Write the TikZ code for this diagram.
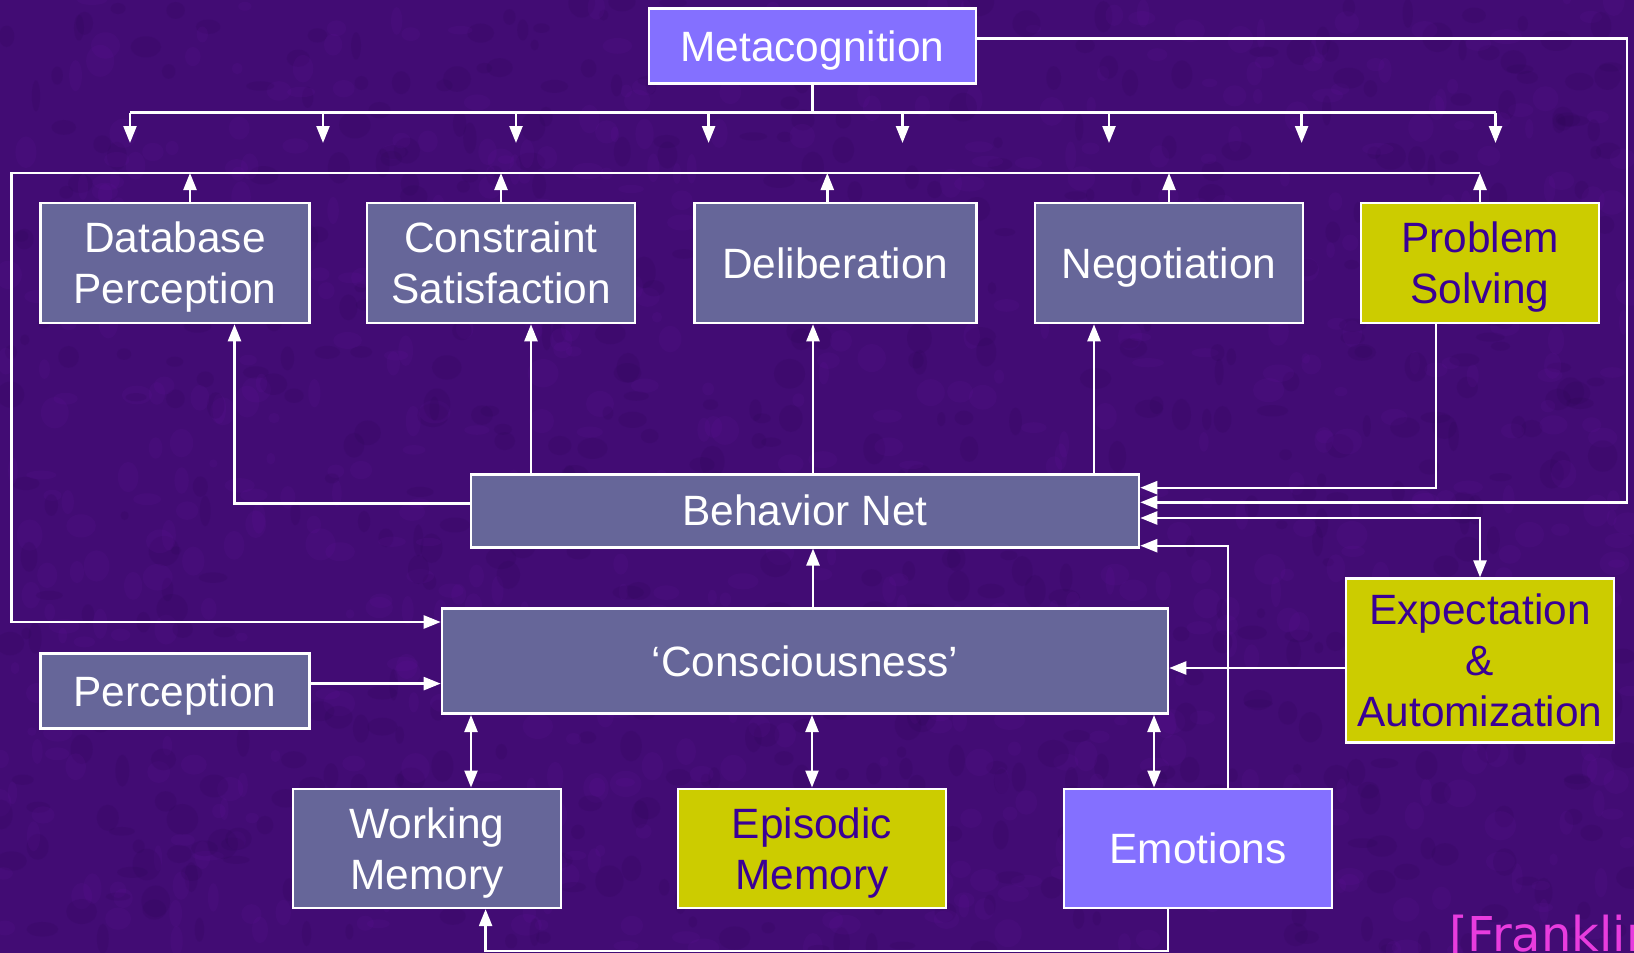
\documentclass[tikz,border=0pt]{standalone}
\usepackage{fontspec}
\setmainfont{Liberation Sans}
\newfontfamily\citefont{DejaVu Sans}
\usetikzlibrary{arrows.meta,calc}

\definecolor{bgpurple}{RGB}{66,12,116}
\definecolor{bgdark}{RGB}{38,4,74}
\definecolor{bglight}{RGB}{110,22,170}
\definecolor{slate}{RGB}{102,102,153}
\definecolor{lilac}{RGB}{132,112,255}
\definecolor{olive}{RGB}{204,204,0}
\definecolor{ink}{RGB}{58,0,150}
\definecolor{citepink}{RGB}{232,60,222}

\begin{document}
\begin{tikzpicture}[x=1pt,y=-1pt,
  box/.style={draw=white,line width=2.6pt,inner sep=0pt,align=center,
    font=\fontsize{42.4}{51}\selectfont,text height=30.4pt,text depth=0pt},
  twolines/.style={text height=81.4pt},
  threelines/.style={text height=132.4pt},
  slatebox/.style={box,fill=slate,text=white},
  lilacbox/.style={box,fill=lilac,text=white},
  olivebox/.style={box,fill=olive,text=ink},
  wire/.style={draw=white,line width=2.4pt},
  arr/.style={wire,-{Triangle[length=17pt,width=13pt]}},
  arrboth/.style={wire,{Triangle[length=17pt,width=13pt]}-{Triangle[length=17pt,width=13pt]}}]

\useasboundingbox (0,0) rectangle (1634,953);
\clip (0,0) rectangle (1634,953);

% mottled purple backdrop
\fill[bgpurple] (0,0) rectangle (1634,953);
\pgfmathsetseed{4711}
\foreach \k in {1,...,1400}{
  \pgfmathsetmacro{\px}{rnd*1634}
  \pgfmathsetmacro{\py}{rnd*953}
  \pgfmathsetmacro{\rx}{4+rnd*12}
  \pgfmathsetmacro{\ry}{4+rnd*12}
  \pgfmathsetmacro{\tone}{rnd}
  \ifdim\tone pt<0.5pt
    \fill[bgdark,opacity=0.13] (\px,\py) ellipse ({\rx} and {\ry});
  \else
    \fill[bglight,opacity=0.11] (\px,\py) ellipse ({\rx} and {\ry});
  \fi
}

% --- boxes ---
\node[lilacbox,minimum width=327pt,minimum height=75pt] (meta) at (812.5,45.9) {Metacognition};

\node[slatebox,twolines,minimum width=269pt,minimum height=120pt] (db) at (175,263) {Database\\Perception};
\node[slatebox,twolines,minimum width=268pt,minimum height=120pt] (cs) at (501,263) {Constraint\\Satisfaction};
\node[slatebox,minimum width=282pt,minimum height=120pt] (delib) at (835.3,263) {Deliberation};
\node[slatebox,minimum width=268pt,minimum height=120pt] (nego) at (1169,263) {Negotiation};
\node[olivebox,twolines,minimum width=238pt,minimum height=120pt] (ps) at (1480,263) {Problem\\Solving};

\node[slatebox,minimum width=668pt,minimum height=73pt] (bn) at (805,510.7) {Behavior Net};
\node[slatebox,minimum width=726pt,minimum height=105pt] (con) at (805,661.2) {‘Consciousness’};
\node[slatebox,minimum width=269pt,minimum height=75pt] (perc) at (175,691) {Perception};
\node[olivebox,threelines,minimum width=268pt,minimum height=164pt] (exp) at (1480,660.7) {Expectation\\\&\\Automization};

\node[slatebox,twolines,minimum width=268pt,minimum height=119pt] (wm) at (427,848.3) {Working\\Memory};
\node[olivebox,twolines,minimum width=268pt,minimum height=119pt] (epi) at (812,848.3) {Episodic\\Memory};
\node[lilacbox,minimum width=268pt,minimum height=119pt] (emo) at (1198,848.3) {Emotions};

% --- rails ---
\coordinate (busL) at (130,112.5);
\coordinate (busR) at (1495.5,112.5);
\coordinate (fbL) at (11.5,173);
\coordinate (fbR) at (1480,173);
\coordinate (rightrail) at (1627,300);
\coordinate (bottomrail) at (0,951);

% Metacognition fans out to the modules
\draw[wire] (meta.south) -- (meta.south |- busL);
\draw[wire] (busL) -- (busR);
\foreach \x [count=\i] in {130,323,516,708.6,902.5,1109,1301.6,1495.5}{
  \coordinate (tip\i) at (\x,143);
  \draw[arr] (tip\i |- busL) -- (tip\i);
}

% modules report back to consciousness
\draw[arr] (fbR) -- (fbL) |- ($(con.north west)+(0,14.6)$);
\draw[arr] ([xshift=15pt]db.north) -- ([xshift=15pt]db.north |- fbL);
\draw[arr] (cs.north) -- (cs.north |- fbL);
\draw[arr] ([xshift=-8pt]delib.north) -- ([xshift=-8pt]delib.north |- fbL);
\draw[arr] (nego.north) -- (nego.north |- fbL);
\draw[arr] (ps.north) -- (ps.north |- fbL);

% behavior net to the modules
\draw[arr] ([yshift=7.4pt]bn.west) -| ([xshift=59.5pt]db.south);
\draw[arr] ([xshift=30pt]cs.south |- bn.north) -- ([xshift=30pt]cs.south);
\draw[arr] ([xshift=8pt]bn.north) -- ([xshift=8pt]bn.north |- delib.south);
\draw[arr] ([xshift=-75pt]nego.south |- bn.north) -- ([xshift=-75pt]nego.south);

% inputs on the right of the behavior net
\draw[arr] ([xshift=-44pt]ps.south) |- ([yshift=23pt]bn.east);
\draw[arr] ([yshift=7.3pt]meta.east) -| (rightrail) |- ([yshift=8.4pt]bn.east);
\draw[arrboth] ([yshift=-7.3pt]bn.east) -| (exp.north);
\draw[arr] ([xshift=30pt]emo.north) |- ([yshift=-35pt]bn.east);

% consciousness links
\draw[arr] ([xshift=8pt]con.north) -- ([xshift=8pt]bn.south);
\draw[arr] ([yshift=7.4pt]perc.east) -- ([yshift=7.4pt]perc.east -| con.west);
\draw[arr] ([yshift=-7.3pt]exp.west) -- ([yshift=-7.3pt]exp.west -| con.east);
\draw[arrboth] ([xshift=44pt]wm.north) -- ([xshift=44pt]wm.north |- con.south);
\draw[arrboth] (epi.north) -- (epi.north |- con.south);
\draw[arrboth] ([xshift=-44pt]emo.north) -- ([xshift=-44pt]emo.north |- con.south);

% emotions feed working memory
\draw[arr] ([xshift=-30pt]emo.south) -- ([xshift=-30pt]emo.south |- bottomrail) -| ([xshift=58.6pt]wm.south);

% citation
\node[anchor=base west,inner sep=0pt,text=citepink,font=\citefont\fontsize{48}{56}\selectfont] (cite) at (1449,951) {[Franklin};

\end{tikzpicture}
\end{document}
